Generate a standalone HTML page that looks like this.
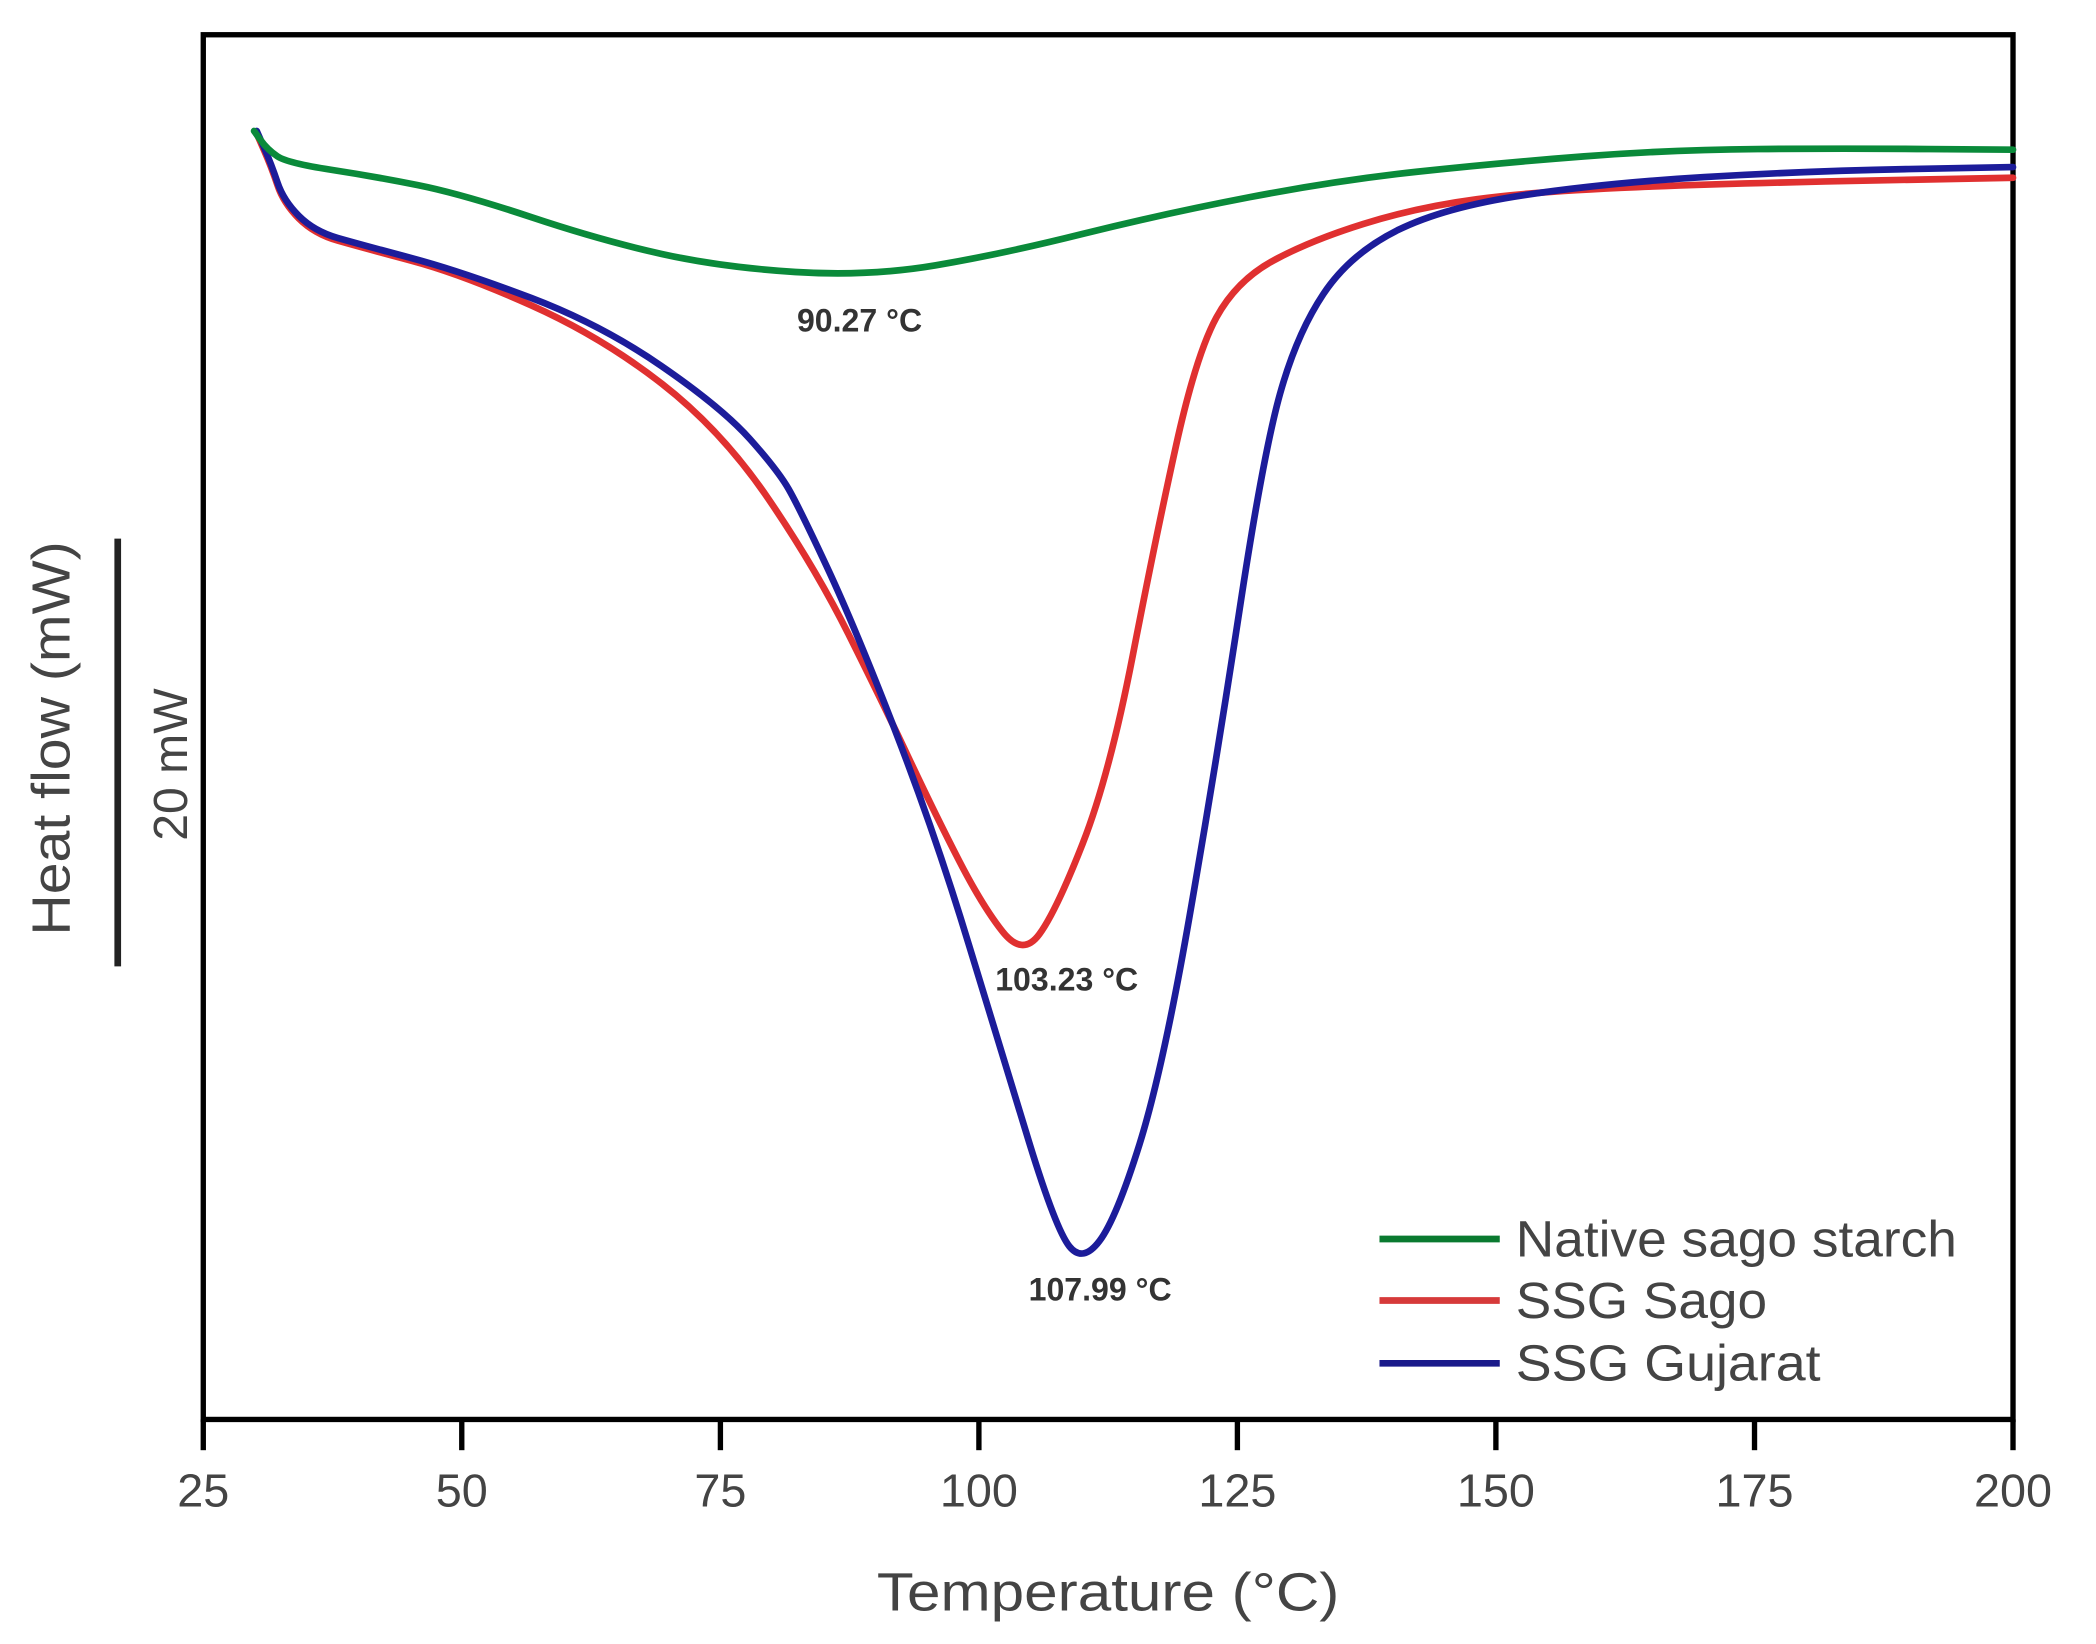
<!DOCTYPE html>
<html><head><meta charset="utf-8">
<style>html,body{margin:0;padding:0;background:#fff;}svg{display:block}</style>
</head><body>
<svg width="2096" height="1644" viewBox="0 0 1568 1230" xmlns="http://www.w3.org/2000/svg" font-family="Liberation Sans, Arial, sans-serif">
<rect width="1568" height="1230" fill="#fff"/>
<rect x="152" y="26" width="1354" height="1036" fill="none" stroke="#000" stroke-width="4"/>
<g stroke="#000" stroke-width="4">
<line x1="152" y1="1062" x2="152" y2="1085"/><line x1="345.4" y1="1062" x2="345.4" y2="1085"/><line x1="538.9" y1="1062" x2="538.9" y2="1085"/><line x1="732.3" y1="1062" x2="732.3" y2="1085"/><line x1="925.7" y1="1062" x2="925.7" y2="1085"/><line x1="1119.1" y1="1062" x2="1119.1" y2="1085"/><line x1="1312.6" y1="1062" x2="1312.6" y2="1085"/><line x1="1506" y1="1062" x2="1506" y2="1085"/>
</g>
<g font-size="35" fill="#444" text-anchor="middle">
<text x="152" y="1127">25</text><text x="345.4" y="1127">50</text><text x="538.9" y="1127">75</text><text x="732.3" y="1127">100</text><text x="925.7" y="1127">125</text><text x="1119.1" y="1127">150</text><text x="1312.6" y="1127">175</text><text x="1506" y="1127">200</text>
</g>
<text x="656" y="1205" font-size="40" fill="#444" textLength="346" lengthAdjust="spacingAndGlyphs">Temperature (°C)</text>
<line x1="88" y1="403" x2="88" y2="723" stroke="#222" stroke-width="5"/>
<text transform="translate(140,572) rotate(-90)" font-size="36" fill="#444" text-anchor="middle">20 mW</text>
<text transform="translate(52,700) rotate(-90)" font-size="40" fill="#444" textLength="295" lengthAdjust="spacingAndGlyphs">Heat flow (mW)</text>
<g fill="none" stroke-width="5" stroke-linejoin="round" stroke-linecap="round">
<path stroke="#e03030" d="M192,100 L197.5,112.5 Q203,125 207.5,138.5 Q212,152 223.5,163.5 Q235,175 252.5,180 Q270,185 307.5,195 Q345,205 397.5,228.5 Q450,252 495,287 Q540,322 575,373.5 Q610,425 635,475 Q660,525 680,567.5 Q700,610 717.5,644 Q735,678 750,697 Q765,716 777.5,699 Q790,682 810,631 Q830,580 847.5,490 Q865,400 880,332.5 Q895,265 910,237.5 Q925,210 952.5,195 Q980,180 1020,167.5 Q1060,155 1105,149 Q1150,143 1225,140 Q1300,137 1403,135 L1506,133"/>
<path stroke="#1c1c9a" d="M192,98 L197.5,110.5 Q203,123 207.5,136.5 Q212,150 223.5,161.5 Q235,173 252.5,178 Q270,183 307.5,193 Q345,203 397.5,223 Q450,243 495,274 Q540,305 561,328.5 Q582,352 590,366 Q598,380 619,425 Q640,470 670,547.5 Q700,625 725,707.5 Q750,790 770,855 Q790,920 800,932.5 Q810,945 822.5,928.5 Q835,912 852.5,856 Q870,800 890,685 Q910,570 927.5,455 Q945,340 957.5,295 Q970,250 990,220 Q1010,190 1045,172.5 Q1080,155 1140,146 Q1200,137 1275,132.5 Q1350,128 1428,126.5 L1506,125"/>
<path stroke="#0a8a3a" d="M190,98 L195,105 Q200,112 207.5,117 Q215,122 247.5,127 Q280,132 312.5,138.5 Q345,145 397.5,162.5 Q450,180 495,190 Q540,200 595,203.5 Q650,207 700,198.5 Q750,190 810,175 Q870,160 935,147.5 Q1000,135 1060,128.5 Q1120,122 1185,117 Q1250,112 1315,111.5 Q1380,111 1443,111.5 L1506,112"/>
</g>
<g font-size="24" font-weight="bold" fill="#333" text-anchor="middle">
<text x="643" y="248">90.27 °C</text>
<text x="798" y="741">103.23 °C</text>
<text x="823" y="973">107.99 °C</text>
</g>
<g stroke-width="5">
<line x1="1032" y1="927" x2="1122" y2="927" stroke="#0a7a30"/>
<line x1="1032" y1="973" x2="1122" y2="973" stroke="#d63a3a"/>
<line x1="1032" y1="1020" x2="1122" y2="1020" stroke="#1a1a8a"/>
</g>
<g font-size="38" fill="#444">
<text x="1134" y="940" textLength="330" lengthAdjust="spacingAndGlyphs">Native sago starch</text>
<text x="1134" y="986" textLength="188" lengthAdjust="spacingAndGlyphs">SSG Sago</text>
<text x="1134" y="1033" textLength="228" lengthAdjust="spacingAndGlyphs">SSG Gujarat</text>
</g>
</svg>
</body></html>
